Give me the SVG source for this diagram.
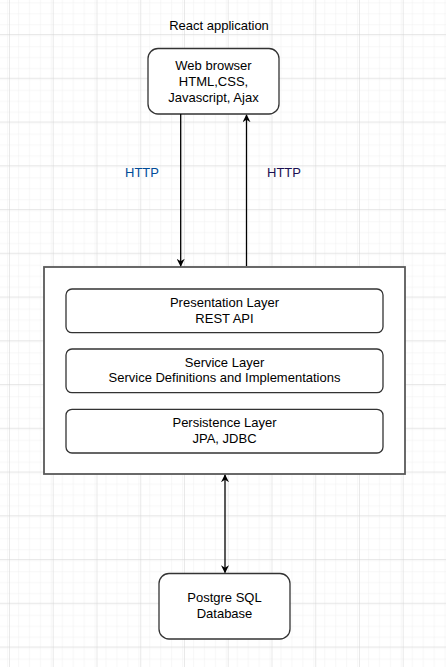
<svg xmlns="http://www.w3.org/2000/svg" width="446" height="667" viewBox="0 0 446 667">
  <defs>
    <pattern id="minor" x="9" y="34" width="10.9375" height="10.9375" patternUnits="userSpaceOnUse">
      <path d="M 10.9375 0 L 0 0 0 10.9375" fill="none" stroke="#f0f0f0" stroke-width="1"/>
    </pattern>
    <pattern id="major" x="9" y="34" width="43.75" height="43.75" patternUnits="userSpaceOnUse">
      <rect width="43.75" height="43.75" fill="url(#minor)"/>
      <path d="M 43.75 0 L 0 0 0 43.75" fill="none" stroke="#d4d4d4" stroke-width="1"/>
    </pattern>
    <marker id="arrow" viewBox="0 0 10 10" refX="9" refY="5" markerWidth="8" markerHeight="8" markerUnits="userSpaceOnUse" orient="auto-start-reverse">
      <path d="M 0 0 L 10 5 L 0 10 L 3 5 z" fill="#000"/>
    </marker>
  </defs>
  <style>
    text { font-family: "Liberation Sans", Arial, sans-serif; font-size: 13px; fill: #000; text-anchor: middle; }
    .node { fill: #fff; stroke: #333; stroke-width: 1.3; }
    .conn { stroke: #000; stroke-width: 1.3; fill: none; }
  </style>
  <rect width="446" height="667" fill="#fff"/>
  <rect width="446" height="667" fill="url(#major)"/>

  <g id="label-react">
    <text x="219" y="30">React application</text>
  </g>

  <g id="web-browser">
    <rect class="node" x="148" y="48.5" width="131" height="65.5" rx="10"/>
    <text x="213.5" y="70">Web browser</text>
    <text x="213.5" y="86">HTML,CSS,</text>
    <text x="213.5" y="101.5">Javascript, Ajax</text>
  </g>

  <g id="backend">
    <rect x="44" y="267" width="361" height="207" fill="#fff" stroke="#595959" stroke-width="1.8"/>
  </g>

  <g id="presentation-layer">
    <rect class="node" x="66" y="289" width="317" height="43.7" rx="6"/>
    <text x="224.5" y="307">Presentation Layer</text>
    <text x="224.5" y="323">REST API</text>
  </g>

  <g id="service-layer">
    <rect class="node" x="66" y="349" width="317" height="43.7" rx="6"/>
    <text x="224.5" y="367">Service Layer</text>
    <text x="224.5" y="382">Service Definitions and Implementations</text>
  </g>

  <g id="persistence-layer">
    <rect class="node" x="66" y="409.3" width="317" height="43.7" rx="6"/>
    <text x="224.5" y="427">Persistence Layer</text>
    <text x="224.5" y="443">JPA, JDBC</text>
  </g>

  <g id="database">
    <rect class="node" x="159" y="573.5" width="131" height="65.5" rx="10"/>
    <text x="224.5" y="602">Postgre SQL</text>
    <text x="224.5" y="618">Database</text>
  </g>

  <g id="connectors">
    <line class="conn" x1="180.7" y1="114" x2="180.7" y2="266" marker-end="url(#arrow)"/>
    <line class="conn" x1="246.5" y1="266" x2="246.5" y2="115" marker-end="url(#arrow)"/>
    <line class="conn" x1="225" y1="475" x2="225" y2="572.5" marker-start="url(#arrow)" marker-end="url(#arrow)"/>
    <text x="142" y="177" style="fill:#004C99">HTTP</text>
    <text x="284" y="177" style="fill:#1a0f52">HTTP</text>
  </g>
</svg>
